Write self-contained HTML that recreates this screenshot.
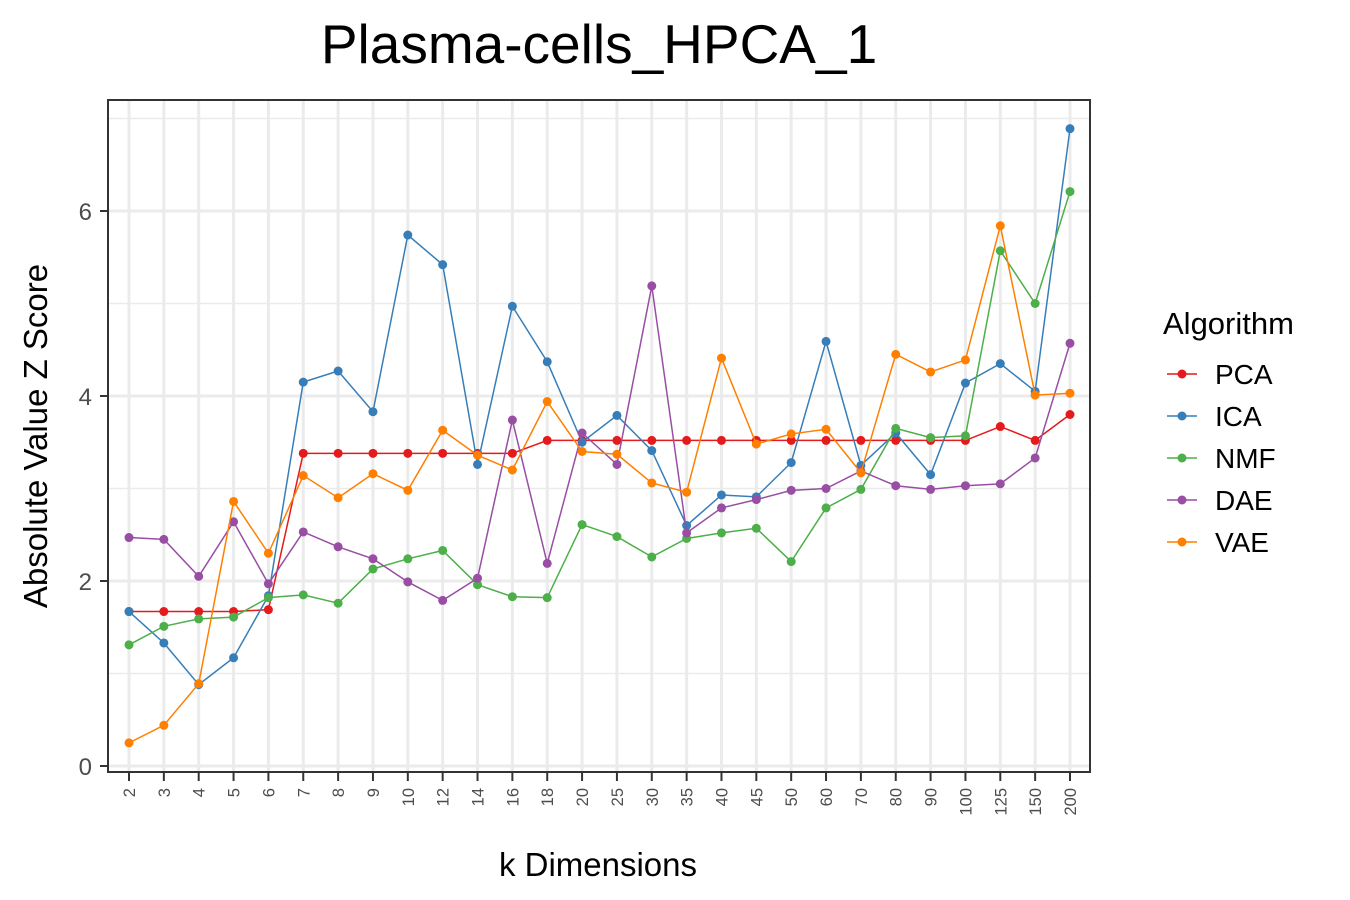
<!DOCTYPE html>
<html><head><meta charset="utf-8"><style>
html,body{margin:0;padding:0;background:#fff;}
svg{display:block;font-family:"Liberation Sans",Arial,sans-serif;}
</style></head><body>
<svg id="chart" width="1350" height="900">
<text x="599" y="63" font-size="55" text-anchor="middle" fill="#000">Plasma-cells_HPCA_1</text>
<g id="grid"></g>
<g id="series"></g>
<rect x="108" y="100" width="982" height="672" fill="none" stroke="#333" stroke-width="2"/>
<g id="axes"></g>
<text x="598" y="876" font-size="33" text-anchor="middle" fill="#000">k Dimensions</text>
<text transform="translate(47,436) rotate(-90)" font-size="33" text-anchor="middle" fill="#000">Absolute Value Z Score</text>
<g id="legend">
<text x="1163" y="334" font-size="31" fill="#000">Algorithm</text>
</g>
</svg>
<script>
const categories = ["2","3","4","5","6","7","8","9","10","12","14","16","18","20","25","30","35","40","45","50","60","70","80","90","100","125","150","200"];
const seriesNames = ["PCA","ICA","NMF","DAE","VAE"];
const seriesColors = ["#e41a1c","#377eb8","#4daf4a","#984ea3","#ff7f00"];
const pcaValues = [1.67,1.67,1.67,1.67,1.69,3.38,3.38,3.38,3.38,3.38,3.38,3.38,3.52,3.52,3.52,3.52,3.52,3.52,3.52,3.52,3.52,3.52,3.52,3.52,3.52,3.67,3.52,3.80];
const icaValues = [1.67,1.33,0.88,1.17,1.84,4.15,4.27,3.83,5.74,5.42,3.26,4.97,4.37,3.50,3.79,3.41,2.60,2.93,2.91,3.28,4.59,3.25,3.60,3.15,4.14,4.35,4.05,6.89];
const nmfValues = [1.31,1.51,1.59,1.61,1.82,1.85,1.76,2.13,2.24,2.33,1.96,1.83,1.82,2.61,2.48,2.26,2.46,2.52,2.57,2.21,2.79,2.99,3.65,3.55,3.57,5.57,5.00,6.21];
const daeValues = [2.47,2.45,2.05,2.64,1.97,2.53,2.37,2.24,1.99,1.79,2.03,3.74,2.19,3.60,3.26,5.19,2.52,2.79,2.88,2.98,3.00,3.19,3.03,2.99,3.03,3.05,3.33,4.57];
const vaeValues = [0.25,0.44,0.89,2.86,2.30,3.14,2.90,3.16,2.98,3.63,3.36,3.20,3.94,3.40,3.37,3.06,2.96,4.41,3.48,3.59,3.64,3.17,4.45,4.26,4.39,5.84,4.01,4.03];
const yTicks = [0,2,4,6];
const yMinor = [1,3,5,7];

const NS="http://www.w3.org/2000/svg";
const allSeries=[pcaValues,icaValues,nmfValues,daeValues,vaeValues];
function xScale(i){return 129+i*(1070-129)/(categories.length-1);}
function yScale(v){return 766-v*92.5;}
function mk(tag,attrs,parent){const e=document.createElementNS(NS,tag);for(const k in attrs)e.setAttribute(k,attrs[k]);parent.appendChild(e);return e;}
const grid=document.getElementById('grid'),axes=document.getElementById('axes'),ser=document.getElementById('series'),leg=document.getElementById('legend');
mk('rect',{x:108,y:100,width:982,height:672,fill:'#fff'},grid);
yMinor.forEach(v=>{const l=mk('line',{x1:108,x2:1090,y1:yScale(v),y2:yScale(v),stroke:'#ebebeb','stroke-width':1.5},grid);

});
yTicks.forEach(v=>{const l=mk('line',{x1:108,x2:1090,y1:yScale(v),y2:yScale(v),stroke:'#ebebeb','stroke-width':3},grid);


const t=mk('line',{x1:100,x2:108,y1:yScale(v),y2:yScale(v),stroke:'#333','stroke-width':2},axes);


const tx=mk('text',{x:92,y:yScale(v)+9,'font-size':24,'text-anchor':'end',fill:'#4d4d4d'},axes);tx.textContent=v;

});
categories.forEach((c,i)=>{const x=xScale(i);
const l=mk('line',{x1:x,x2:x,y1:100,y2:772,stroke:'#ebebeb','stroke-width':3},grid);


const t=mk('line',{x1:x,x2:x,y1:772,y2:781,stroke:'#333','stroke-width':2},axes);


const tx=mk('text',{transform:`translate(${x+6},788) rotate(-90)`,'font-size':16.5,'text-anchor':'end',fill:'#4d4d4d'},axes);tx.textContent=c;

});
allSeries.forEach((vals,s)=>{const col=seriesColors[s];
const pts=vals.map((v,i)=>xScale(i)+','+yScale(v)).join(' ');
const pl=mk('polyline',{points:pts,fill:'none',stroke:col,'stroke-width':1.5},ser);


vals.forEach((v,i)=>{const c=mk('circle',{cx:xScale(i),cy:yScale(v),r:4.5,fill:col},ser);

});
const y=374+s*42;
const ll=mk('line',{x1:1167,x2:1197,y1:y,y2:y,stroke:col,'stroke-width':1.5},leg);


const lc=mk('circle',{cx:1182,cy:y,r:4.5,fill:col},leg);


const lt=mk('text',{x:1215,y:y+10,'font-size':28,fill:'#000'},leg);lt.textContent=seriesNames[s];

});
</script>
</body></html>
